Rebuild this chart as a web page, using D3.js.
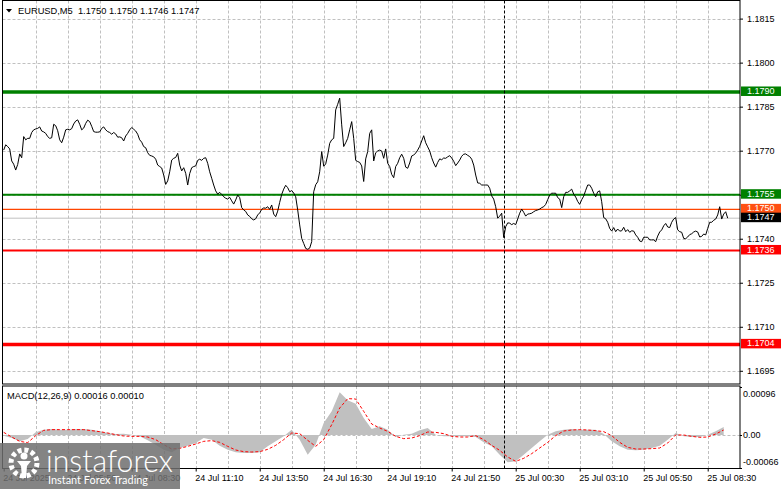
<!DOCTYPE html>
<html><head><meta charset="utf-8">
<script src="https://cdn.jsdelivr.net/npm/d3@7/dist/d3.min.js"></script>
<style>
body{margin:0;background:#fff;}
svg{display:block;font-family:"Liberation Sans",Arial,sans-serif;}
</style>
</head><body>
<svg id="c" width="781" height="489"></svg>
<script>
// ---------------- DATA ----------------
const symbol = "EURUSD,M5";
const ohlc = ["1.1750", "1.1750", "1.1746", "1.1747"];
const macdTitle = "MACD(12,26,9)";
const macdNow = ["0.00016", "0.00010"];
// M5 closes, one per bar, starting 24 Jul 03:10
const closes = [
1.17702,1.17720,1.17714,1.17706,1.17665,1.17654,1.17634,1.17653,1.17689,1.17676,
1.17748,1.17737,1.17742,1.17742,1.17762,1.17771,1.17774,1.17776,1.17781,1.17767,
1.17764,1.17759,1.17748,1.17742,1.17744,1.17790,1.17785,1.17768,1.17737,1.17727,
1.17746,1.17771,1.17773,1.17771,1.17775,1.17791,1.17801,1.17805,1.17790,1.17771,
1.17777,1.17793,1.17804,1.17799,1.17783,1.17765,1.17763,1.17763,1.17764,1.17776,
1.17781,1.17771,1.17765,1.17762,1.17756,1.17762,1.17757,1.17746,1.17747,1.17744,
1.17733,1.17750,1.17759,1.17771,1.17779,1.17773,1.17767,1.17756,1.17737,1.17729,
1.17714,1.17710,1.17693,1.17684,1.17682,1.17679,1.17671,1.17651,1.17646,1.17641,
1.17617,1.17585,1.17597,1.17628,1.17668,1.17674,1.17677,1.17691,1.17651,1.17631,
1.17642,1.17623,1.17583,1.17622,1.17642,1.17646,1.17648,1.17667,1.17671,1.17667,
1.17674,1.17676,1.17657,1.17628,1.17606,1.17583,1.17563,1.17552,1.17558,1.17551,
1.17543,1.17538,1.17535,1.17541,1.17529,1.17518,1.17532,1.17549,1.17540,1.17506,
1.17498,1.17493,1.17481,1.17476,1.17468,1.17464,1.17468,1.17481,1.17488,1.17500,
1.17505,1.17504,1.17509,1.17500,1.17515,1.17484,1.17475,1.17494,1.17524,1.17551,
1.17569,1.17582,1.17574,1.17560,1.17564,1.17556,1.17543,1.17498,1.17447,1.17401,
1.17384,1.17367,1.17364,1.17368,1.17390,1.17560,1.17584,1.17594,1.17628,1.17697,
1.17647,1.17655,1.17685,1.17725,1.17737,1.17742,1.17839,1.17858,1.17879,1.17788,
1.17714,1.17727,1.17742,1.17771,1.17799,1.17742,1.17667,1.17663,1.17660,1.17648,
1.17595,1.17672,1.17697,1.17759,1.17771,1.17665,1.17693,1.17699,1.17702,1.17699,
1.17674,1.17706,1.17657,1.17646,1.17619,1.17608,1.17646,1.17657,1.17676,1.17688,
1.17674,1.17644,1.17640,1.17658,1.17682,1.17685,1.17692,1.17702,1.17715,1.17733,
1.17751,1.17727,1.17713,1.17699,1.17676,1.17658,1.17644,1.17660,1.17672,1.17669,
1.17675,1.17674,1.17679,1.17683,1.17675,1.17664,1.17649,1.17658,1.17668,1.17681,
1.17688,1.17689,1.17684,1.17680,1.17671,1.17651,1.17617,1.17590,1.17589,1.17583,
1.17583,1.17583,1.17583,1.17572,1.17546,1.17535,1.17509,1.17470,1.17477,1.17487,
1.17404,1.17441,1.17454,1.17453,1.17448,1.17452,1.17448,1.17467,1.17487,1.17501,
1.17490,1.17477,1.17484,1.17485,1.17487,1.17492,1.17496,1.17498,1.17501,1.17506,
1.17509,1.17517,1.17533,1.17549,1.17555,1.17555,1.17555,1.17540,1.17535,1.17506,
1.17543,1.17558,1.17558,1.17563,1.17569,1.17552,1.17542,1.17527,1.17517,1.17533,
1.17545,1.17565,1.17583,1.17583,1.17572,1.17555,1.17543,1.17560,1.17563,1.17526,
1.17472,1.17468,1.17456,1.17435,1.17426,1.17438,1.17424,1.17433,1.17426,1.17427,
1.17439,1.17424,1.17431,1.17422,1.17427,1.17426,1.17413,1.17405,1.17392,1.17390,
1.17405,1.17405,1.17405,1.17396,1.17396,1.17396,1.17390,1.17409,1.17423,1.17430,
1.17444,1.17452,1.17440,1.17438,1.17456,1.17467,1.17472,1.17430,1.17424,1.17422,
1.17401,1.17400,1.17406,1.17414,1.17417,1.17423,1.17426,1.17423,1.17406,1.17408,
1.17416,1.17413,1.17435,1.17456,1.17456,1.17463,1.17467,1.17481,1.17509,1.17467,
1.17484,1.17492,1.17470
];
// MACD main (histogram) and signal, one value every 4 bars
const macdStep = 4;
const macdMain = [
-0.000013,-0.000060,-0.000127,-0.000080,0.000053,0.000107,0.000120,0.000107,0.000107,0.000120,
0.000120,0.000107,0.000073,0.000040,0.000020,0.000027,0.000007,-0.000027,-0.000107,-0.000193,
-0.000293,-0.000347,-0.000260,-0.000213,-0.000160,-0.000060,-0.000093,-0.000213,-0.000293,-0.000347,
-0.000360,-0.000360,-0.000347,-0.000227,-0.000127,-0.000027,0.000107,-0.000093,-0.000393,-0.000193,
0.000240,0.000473,0.000853,0.000693,0.000627,0.000340,0.000120,0.000173,0.000107,-0.000040,
0.000007,0.000027,0.000093,0.000140,0.000007,-0.000027,-0.000027,-0.000027,-0.000027,-0.000040,
-0.000147,-0.000227,-0.000393,-0.000547,-0.000527,-0.000393,-0.000260,-0.000127,0.000007,0.000073,
0.000107,0.000120,0.000107,0.000107,0.000107,0.000020,-0.000127,-0.000227,-0.000293,-0.000307,
-0.000293,-0.000260,-0.000213,-0.000093,0.000040,-0.000027,-0.000040,-0.000040,0.000007,0.000073,
0.000160
];
const macdSignal = [
0.000053,-0.000040,-0.000127,-0.000153,-0.000013,0.000093,0.000107,0.000107,0.000107,0.000107,
0.000107,0.000087,0.000067,0.000040,0.000007,-0.000020,-0.000027,-0.000027,-0.000040,-0.000093,
-0.000193,-0.000280,-0.000267,-0.000227,-0.000180,-0.000127,-0.000113,-0.000147,-0.000227,-0.000300,
-0.000333,-0.000340,-0.000333,-0.000287,-0.000207,-0.000093,0.000040,0.000027,-0.000107,-0.000227,
-0.000093,0.000207,0.000540,0.000727,0.000720,0.000473,0.000220,0.000140,0.000073,-0.000027,
-0.000073,-0.000060,-0.000013,0.000060,0.000053,0.000027,-0.000027,-0.000040,-0.000040,-0.000013,
-0.000093,-0.000207,-0.000307,-0.000440,-0.000527,-0.000467,-0.000373,-0.000260,-0.000147,-0.000013,
0.000080,0.000100,0.000107,0.000100,0.000087,0.000067,-0.000013,-0.000147,-0.000247,-0.000280,
-0.000280,-0.000273,-0.000260,-0.000160,0.000000,0.000000,-0.000027,-0.000047,-0.000040,0.000020,
0.000100
];
const priceTicks = [1.1695,1.1710,1.1725,1.1740,1.1755,1.1770,1.1785,1.1800,1.1815];
const macdTicks = [0.00096, 0, -0.00066];
const xLabels = ["24 Jul 2025","24 Jul 05:50","24 Jul 08:30","24 Jul 11:10","24 Jul 13:50","24 Jul 16:30",
                 "24 Jul 19:10","24 Jul 21:50","25 Jul 00:30","25 Jul 03:10","25 Jul 05:50","25 Jul 08:30"];
const resistance = [1.1790, 1.1755];
const support = [1.1736, 1.1704];
const askLevel = 1.1750;
const bidLevel = 1.1747;
const daySeparatorBar = 250; // 25 Jul 00:00

// ---------------- LAYOUT ----------------
const svg = d3.select("#c");
const L = 2.5, R = 740, T = 0.5, MB = 384, MT = 386, BB = 468.5;
const x = d3.scaleLinear().domain([0, 368.15]).range([3.7, 740]);
const y = d3.scaleLinear().domain([1.16905, 1.18210]).range([384, 1]);
const ym = d3.scaleLinear().domain([-0.00066, 0.00096]).range([468, 387]);
const gridC = "#c0c0c0";

const defs = svg.append("defs");
defs.append("clipPath").attr("id","cm").append("rect").attr("x",L).attr("y",T).attr("width",R-L).attr("height",MB-T);
defs.append("clipPath").attr("id","cd").append("rect").attr("x",L).attr("y",MT).attr("width",R-L).attr("height",BB-MT);

// grid
const gMain = svg.append("g").attr("clip-path","url(#cm)");
const gMacd = svg.append("g").attr("clip-path","url(#cd)");
const gridBars = d3.range(16, 353, 16);
gMain.selectAll("line.vg").data(gridBars).join("line")
  .attr("x1",d=>Math.round(x(d))+0.5).attr("x2",d=>Math.round(x(d))+0.5).attr("y1",T).attr("y2",MB)
  .attr("stroke",gridC).attr("stroke-dasharray","3,2");
gMain.selectAll("line.hg").data(priceTicks).join("line")
  .attr("x1",L).attr("x2",R).attr("y1",d=>Math.round(y(d))+0.5).attr("y2",d=>Math.round(y(d))+0.5)
  .attr("stroke",gridC).attr("stroke-dasharray","3,2");
gMacd.selectAll("line.vg").data(gridBars).join("line")
  .attr("x1",d=>Math.round(x(d))+0.5).attr("x2",d=>Math.round(x(d))+0.5).attr("y1",MT).attr("y2",BB)
  .attr("stroke",gridC).attr("stroke-dasharray","3,2");
gMacd.append("line").attr("x1",L).attr("x2",R).attr("y1",Math.round(ym(0))+0.5).attr("y2",Math.round(ym(0))+0.5)
  .attr("stroke",gridC).attr("stroke-dasharray","3,2");

// level lines
const levelLine = (p, color, w) => gMain.append("line").attr("x1",L).attr("x2",R)
  .attr("y1",y(p)).attr("y2",y(p)).attr("stroke",color).attr("stroke-width",w);
levelLine(bidLevel, "#c0c0c0", 1);
levelLine(askLevel, "#ff4500", 1.2);
levelLine(resistance[0], "#008000", 3.5);
levelLine(resistance[1], "#008000", 2);
levelLine(support[0], "#ff0000", 2);
levelLine(support[1], "#ff0000", 3.5);

// price line
gMain.append("path").datum(closes)
  .attr("d", d3.line().x((d,i)=>x(i)).y(d=>y(d)))
  .attr("fill","none").attr("stroke","#000").attr("stroke-width",1);

// MACD histogram (drawn as a filled column area) and signal
gMacd.append("path").datum(macdMain)
  .attr("d", d3.area().x((d,k)=>x(k*macdStep)).y0(ym(0)).y1(d=>ym(d)))
  .attr("fill","#c0c0c0");
gMacd.append("path").datum(macdSignal)
  .attr("d", d3.line().x((d,k)=>x(k*macdStep)).y(d=>ym(d)))
  .attr("fill","none").attr("stroke","#ff0000").attr("stroke-width",1).attr("stroke-dasharray","3,2");

// day separator
svg.append("line").attr("x1",Math.round(x(daySeparatorBar))+0.5).attr("x2",Math.round(x(daySeparatorBar))+0.5)
  .attr("y1",T).attr("y2",BB).attr("stroke","#000").attr("stroke-dasharray","3,2");

// frames
svg.append("rect").attr("x",L).attr("y",T).attr("width",R-L).attr("height",MB-T).attr("fill","none").attr("stroke","#000");
svg.append("rect").attr("x",L).attr("y",MT).attr("width",R-L).attr("height",BB-MT).attr("fill","none").attr("stroke","#000");

// right price axis
const fmt4 = d3.format(".4f");
const ay = svg.append("g").attr("transform",`translate(${R},0)`)
  .call(d3.axisRight(y).tickValues(priceTicks).tickSize(3).tickPadding(4).tickFormat(fmt4));
ay.select(".domain").remove();
ay.selectAll("text").attr("font-size",9).attr("font-family","Liberation Sans, Arial, sans-serif").attr("fill","#000");
ay.selectAll("line").attr("stroke","#000");

// MACD axis
const am = svg.append("g").attr("transform",`translate(${R},0)`)
  .call(d3.axisRight(ym).tickValues(macdTicks).tickSize(2).tickPadding(1)
    .tickFormat(d => d === 0 ? "0.00" : d.toFixed(5)));
am.select(".domain").remove();
am.selectAll("text").attr("font-size",9).attr("font-family","Liberation Sans, Arial, sans-serif").attr("fill","#000")
  .attr("dy",d => d > 0 ? "1.05em" : (d < 0 ? "-0.35em" : "0.32em"));
am.selectAll("line").attr("stroke","#000");

// time axis
const tickBars = d3.range(0, 353, 32);
const ax = svg.append("g").attr("transform",`translate(0,${BB})`)
  .call(d3.axisBottom(x).tickValues(tickBars).tickSize(3).tickPadding(3).tickFormat((d,j)=>xLabels[j]));
ax.select(".domain").remove();
ax.selectAll("text").attr("font-size",9).attr("font-family","Liberation Sans, Arial, sans-serif").attr("fill","#000")
  .attr("text-anchor","start").attr("dx","-1");
ax.selectAll("line").attr("stroke","#000");

// price label boxes
const boxes = [
  {p: resistance[0], c:"#008000"}, {p: resistance[1], c:"#008000"},
  {p: askLevel, c:"#ff4f12"}, {p: bidLevel, c:"#000000"},
  {p: support[0], c:"#ff0000"}, {p: support[1], c:"#ff0000"}
];
const gb = svg.append("g");
boxes.forEach(b => {
  const cy = y(b.p) - 1;
  gb.append("rect").attr("x",R+1).attr("y",cy-4.5).attr("width",781-R-1).attr("height",9.5).attr("fill",b.c);
  gb.append("text").attr("x",R+7).attr("y",cy).attr("dy","0.34em").attr("font-size",9).attr("fill","#fff")
    .text(fmt4(b.p));
});

// title texts
svg.append("path").attr("d","M6,9 L12,9 L9,12.5 Z").attr("fill","#000");
svg.append("text").attr("x",18).attr("y",14).attr("font-size",9.3).attr("fill","#000")
  .attr("xml:space","preserve").text(`${symbol}  ${ohlc.join(" ")}`);
svg.append("text").attr("x",7).attr("y",399).attr("font-size",9.3).attr("fill","#000")
  .text(`${macdTitle} ${macdNow.join(" ")}`);

// watermark logo
const lg = svg.append("g");
lg.append("rect").attr("x",0).attr("y",443).attr("width",180).attr("height",46).attr("fill","#6f6f6f").attr("opacity",0.85);
lg.append("circle").attr("cx",24).attr("cy",463).attr("r",13).attr("fill","none").attr("stroke","#fff")
  .attr("stroke-width",5).attr("stroke-dasharray","4,2.8");
lg.append("circle").attr("cx",24).attr("cy",456).attr("r",3.5).attr("fill","#fff");
lg.append("path").attr("d","M17,461 L31,461 L27,466 L26,478 L22,478 L21,466 Z").attr("fill","#fff");
lg.append("text").attr("x",46).attr("y",472).attr("font-family","Lato, Roboto, sans-serif").attr("font-weight",300)
  .attr("font-size",32).attr("fill","#fff").attr("textLength",127).attr("lengthAdjust","spacingAndGlyphs").text("instaforex");
lg.append("text").attr("x",48).attr("y",484).attr("font-family","Lato, Roboto, sans-serif")
  .attr("font-size",11.5).attr("fill","#fff").attr("textLength",100).attr("lengthAdjust","spacingAndGlyphs").text("Instant Forex Trading");
</script>
</body></html>
